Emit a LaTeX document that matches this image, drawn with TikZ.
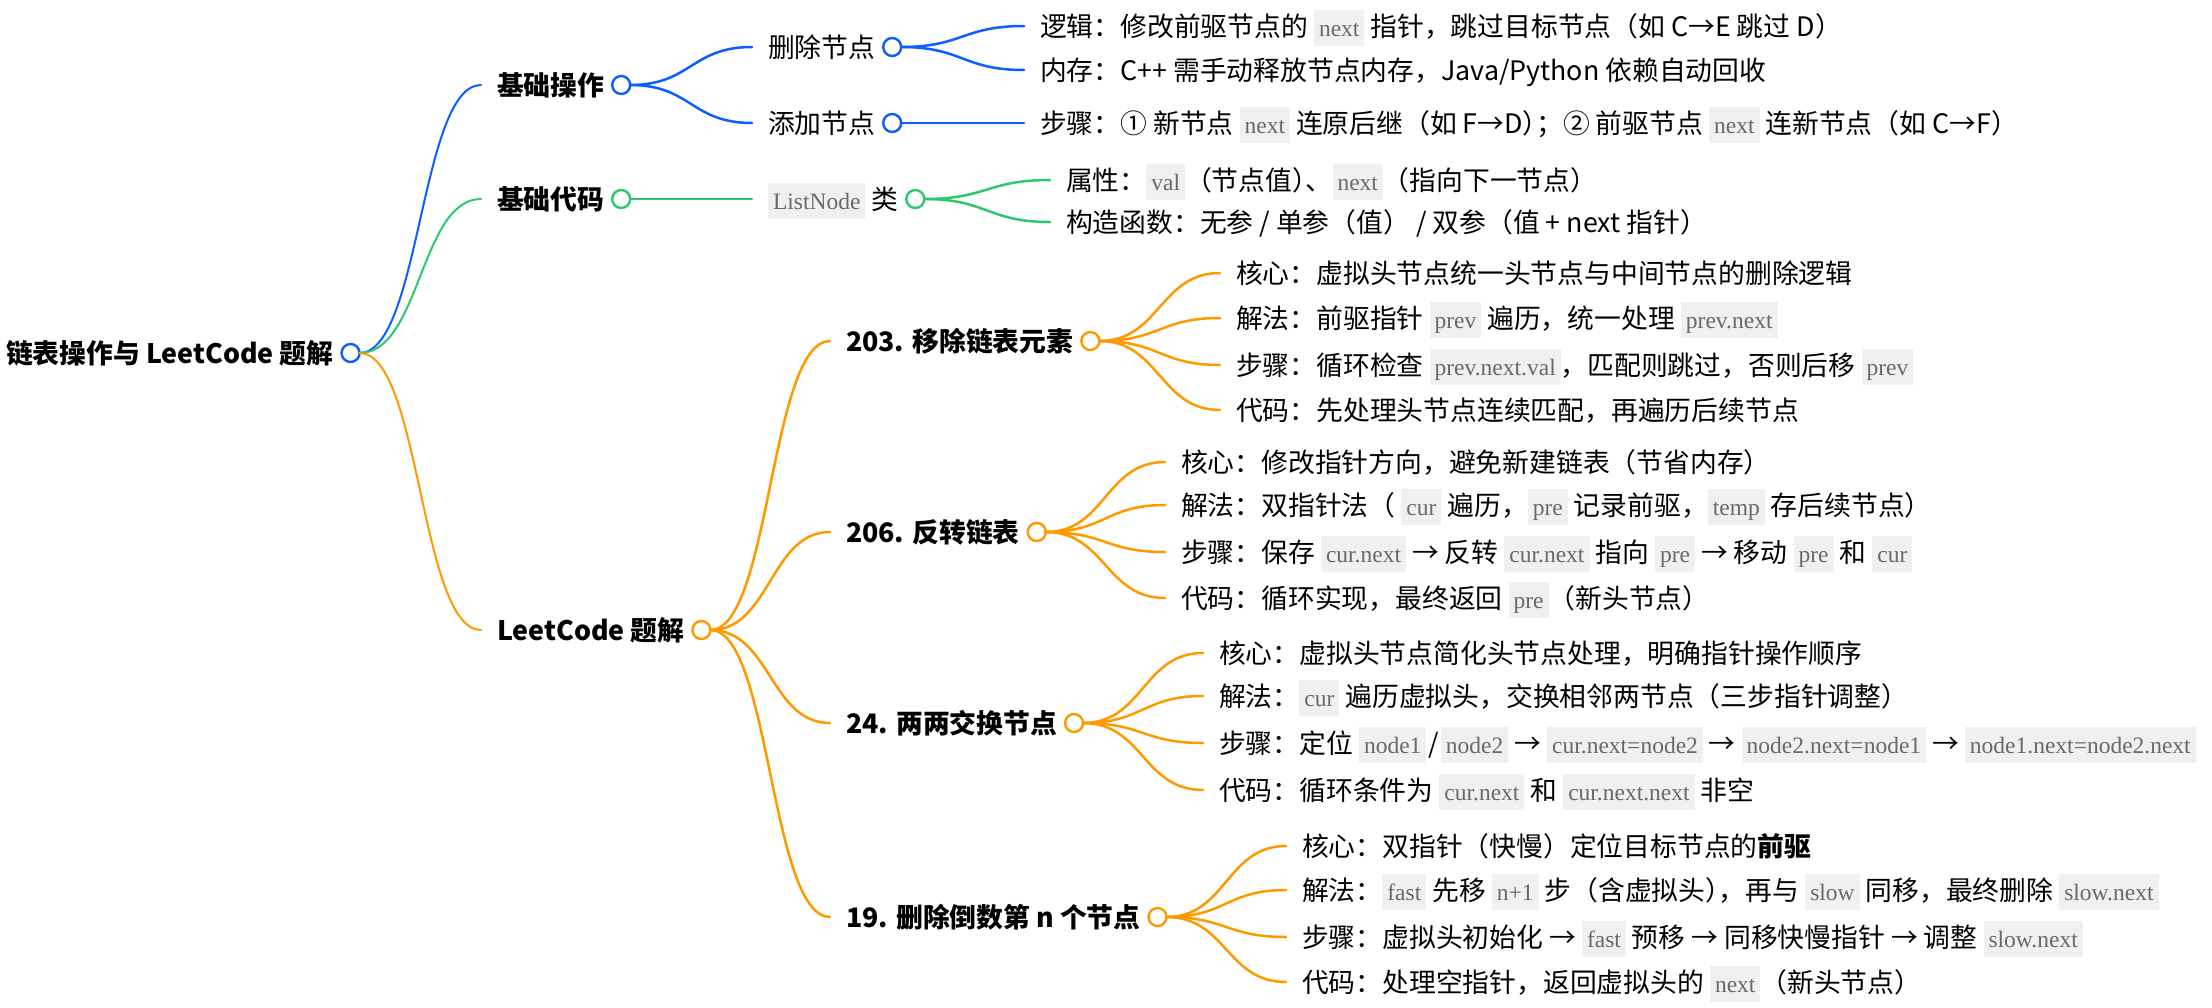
\documentclass[tikz,border=0pt]{standalone}
\usepackage{fontspec}
\setmainfont{Noto Sans CJK SC}
\newfontfamily\codefont{Liberation Serif}
\usetikzlibrary{calc}
\definecolor{cblue}{RGB}{12,94,255}
\definecolor{cgreen}{RGB}{45,200,110}
\definecolor{corange}{RGB}{255,153,0}
\definecolor{codebg}{RGB}{240,240,240}
\definecolor{codefg}{RGB}{105,105,105}
\newcommand\mainsz{\fontsize{26.8}{32}\selectfont}
\newcommand\cd[1]{{\setlength\fboxsep{0pt}\colorbox{codebg}{\kern5pt\rule[-10pt]{0pt}{36pt}\codefont\fontsize{23.5}{23.5}\selectfont\color{codefg}#1\kern5pt}}}
\newcommand\cp{\kern-0.5em}
\newcommand\lnk[3]{\draw[lk=#3] let \p1=(#1.east), \p2=($(#2.base west)+(-16,-10)$) in (\p1) .. controls ({0.5*\x1+0.5*\x2},\y1) and ({0.5*\x1+0.5*\x2},\y2) .. (\p2);}
\newcommand\rlnk[3]{\draw[lk=#3, line width=2pt] let \p1=(#1.east), \p2=($(#2.base west)+(-16,-10)$) in (\p1) .. controls ({0.5*\x1+0.5*\x2},\y1) and ({0.5*\x1+0.5*\x2},\y2) .. (\p2);}
\tikzset{
  txt/.style={anchor=base west, inner sep=0pt, outer sep=0pt, font=\mainsz},
  bt/.style={txt, font=\mainsz\bfseries},
  dot/.style={circle, draw=#1, fill=white, line width=2.4pt, minimum size=18pt, inner sep=0pt, outer sep=0pt},
  lk/.style={draw=#1, line width=2.5pt, line cap=round},
}
\begin{document}
\begin{tikzpicture}[x=1pt, y=-1pt]
\useasboundingbox (0,0) rectangle (2212,1007);
% text nodes (x = text start, y = centre + 10 = baseline)
\node[bt] (root) at (6,363) {链表操作与 LeetCode 题解};
\node[bt] (ops) at (497,95) {基础操作};
\node[bt] (code) at (497,209) {基础代码};
\node[bt] (lc) at (497,640) {LeetCode 题解};
\node[txt] (del) at (768,57) {删除节点};
\node[txt] (add) at (768,133) {添加节点};
\node[txt] (cls) at (768,209) {\cd{ListNode} 类};
\node[txt] (d1) at (1040,36) {逻辑：修改前驱节点的 \cd{next} 指针，跳过目标节点（如 C→E 跳过 D）};
\node[txt] (d2) at (1040,80) {内存：C++ 需手动释放节点内存，Java/Python 依赖自动回收};
\node[txt] (a1) at (1040,133) {步骤：① 新节点 \cd{next} 连原后继（如 F→D）\cp；② 前驱节点 \cd{next} 连新节点（如 C→F）};
\node[txt] (k1) at (1066,190) {属性：\cd{val}（节点值）\cp、\cd{next}（指向下一节点）};
\node[txt] (k2) at (1066,232) {构造函数：无参 / 单参（值） / 双参（值 + next 指针）};
\node[bt] (p203) at (846,351) {203. 移除链表元素};
\node[bt] (p206) at (846,542) {206. 反转链表};
\node[bt] (p24) at (846,733) {24. 两两交换节点};
\node[bt] (p19) at (846,927) {19. 删除倒数第 n 个节点};
\node[txt] (a203) at (1236,283) {核心：虚拟头节点统一头节点与中间节点的删除逻辑};
\node[txt] (b203) at (1236,328) {解法：前驱指针 \cd{prev} 遍历，统一处理 \cd{prev.next}};
\node[txt] (s203) at (1236,375) {步骤：循环检查 \cd{prev.next.val}，匹配则跳过，否则后移 \cd{prev}};
\node[txt] (e203) at (1236,420) {代码：先处理头节点连续匹配，再遍历后续节点};
\node[txt] (a206) at (1181,472) {核心：修改指针方向，避免新建链表（节省内存）};
\node[txt] (b206) at (1181,515) {解法：双指针法（ \cd{cur} 遍历，\cd{pre} 记录前驱，\cd{temp} 存后续节点）};
\node[txt] (s206) at (1181,562) {步骤：保存 \cd{cur.next} → 反转 \cd{cur.next} 指向 \cd{pre} → 移动 \cd{pre} 和 \cd{cur}};
\node[txt] (e206) at (1181,608) {代码：循环实现，最终返回 \cd{pre}（新头节点）};
\node[txt] (a24) at (1219,663) {核心：虚拟头节点简化头节点处理，明确指针操作顺序};
\node[txt] (b24) at (1219,706) {解法：\cd{cur} 遍历虚拟头，交换相邻两节点（三步指针调整）};
\node[txt] (s24) at (1219,753) {步骤：定位 \cd{node1}\kern2pt/\kern2pt\cd{node2} → \cd{cur.next=node2} → \cd{node2.next=node1} → \cd{node1.next=node2.next}};
\node[txt] (e24) at (1219,800) {代码：循环条件为 \cd{cur.next} 和 \cd{cur.next.next} 非空};
\node[txt] (a19) at (1302,856) {核心：双指针（快慢）定位目标节点的\textbf{前驱}};
\node[txt] (b19) at (1302,900) {解法：\cd{fast} 先移 \cd{n+1} 步（含虚拟头）\cp，再与 \cd{slow} 同移，最终删除 \cd{slow.next}};
\node[txt] (s19) at (1302,947) {步骤：虚拟头初始化 → \cd{fast} 预移 → 同移快慢指针 → 调整 \cd{slow.next}};
\node[txt] (e19) at (1302,992) {代码：处理空指针，返回虚拟头的 \cd{next}（新头节点）};
% circles
\node[dot=cblue] (oroot) at ($(root.base east)+(17,-10)$) {};
\node[dot=cblue] (oops) at ($(ops.base east)+(17,-10)$) {};
\node[dot=cgreen] (ocode) at ($(code.base east)+(17,-10)$) {};
\node[dot=corange] (olc) at ($(lc.base east)+(17,-10)$) {};
\node[dot=cblue] (odel) at ($(del.base east)+(17,-10)$) {};
\node[dot=cblue] (oadd) at ($(add.base east)+(17,-10)$) {};
\node[dot=cgreen] (ocls) at ($(cls.base east)+(17,-10)$) {};
\node[dot=corange] (o203) at ($(p203.base east)+(17,-10)$) {};
\node[dot=corange] (o206) at ($(p206.base east)+(17,-10)$) {};
\node[dot=corange] (o24) at ($(p24.base east)+(17,-10)$) {};
\node[dot=corange] (o19) at ($(p19.base east)+(17,-10)$) {};
% connectors
\rlnk{oroot}{ops}{cblue}
\rlnk{oroot}{code}{cgreen}
\rlnk{oroot}{lc}{corange}
\lnk{oops}{del}{cblue}
\lnk{oops}{add}{cblue}
\lnk{odel}{d1}{cblue}
\lnk{odel}{d2}{cblue}
\lnk{oadd}{a1}{cblue}
\lnk{ocode}{cls}{cgreen}
\lnk{ocls}{k1}{cgreen}
\lnk{ocls}{k2}{cgreen}
\lnk{olc}{p203}{corange}
\lnk{olc}{p206}{corange}
\lnk{olc}{p24}{corange}
\lnk{olc}{p19}{corange}
\lnk{o203}{a203}{corange}
\lnk{o203}{b203}{corange}
\lnk{o203}{s203}{corange}
\lnk{o203}{e203}{corange}
\lnk{o206}{a206}{corange}
\lnk{o206}{b206}{corange}
\lnk{o206}{s206}{corange}
\lnk{o206}{e206}{corange}
\lnk{o24}{a24}{corange}
\lnk{o24}{b24}{corange}
\lnk{o24}{s24}{corange}
\lnk{o24}{e24}{corange}
\lnk{o19}{a19}{corange}
\lnk{o19}{b19}{corange}
\lnk{o19}{s19}{corange}
\lnk{o19}{e19}{corange}
\end{tikzpicture}
\end{document}
